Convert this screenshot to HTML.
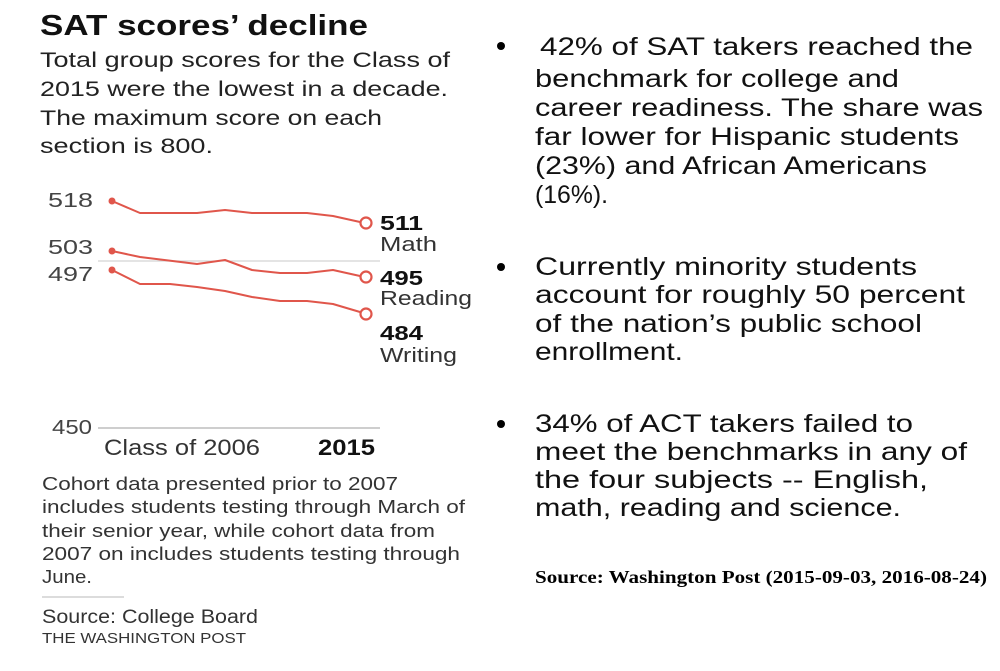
<!DOCTYPE html>
<html>
<head>
<meta charset="utf-8">
<style>
  html, body { margin: 0; padding: 0; background: #ffffff; }
  svg { display: block; }
  .sans { font-family: "Liberation Sans", "Noto Sans CJK JP", sans-serif; }
  .serif { font-family: "Liberation Serif", serif; }
</style>
</head>
<body>
<svg width="1000" height="671" viewBox="0 0 1000 671" xmlns="http://www.w3.org/2000/svg">
  <rect x="0" y="0" width="1000" height="671" fill="#ffffff"/>

  <!-- Title -->
  <text class="sans" x="40" y="35" font-size="29" font-weight="bold" fill="#111" textLength="328" lengthAdjust="spacingAndGlyphs">SAT scores’ decline</text>

  <!-- Subtitle -->
  <g class="sans" font-size="21" fill="#222">
    <text x="40" y="67" textLength="410" lengthAdjust="spacingAndGlyphs">Total group scores for the Class of</text>
    <text x="40" y="96" textLength="408" lengthAdjust="spacingAndGlyphs">2015 were the lowest in a decade.</text>
    <text x="40" y="125" textLength="342" lengthAdjust="spacingAndGlyphs">The maximum score on each</text>
    <text x="40" y="153" textLength="173" lengthAdjust="spacingAndGlyphs">section is 800.</text>
  </g>

  <!-- Chart gridlines -->
  <line x1="98" y1="261" x2="380" y2="261" stroke="#d4d4d4" stroke-width="1.2"/>
  <line x1="98" y1="428" x2="380" y2="428" stroke="#b0b0b0" stroke-width="1.2"/>

  <!-- Y labels -->
  <g class="sans" font-size="20" fill="#444">
    <text x="48" y="207" textLength="45" lengthAdjust="spacingAndGlyphs">518</text>
    <text x="48" y="254" textLength="45" lengthAdjust="spacingAndGlyphs">503</text>
    <text x="48" y="281" textLength="45" lengthAdjust="spacingAndGlyphs">497</text>
    <text x="52" y="434" textLength="40" lengthAdjust="spacingAndGlyphs">450</text>
  </g>

  <!-- Series -->
  <g fill="none" stroke="#e0564b" stroke-width="2" stroke-linejoin="round" stroke-linecap="round">
    <polyline points="112,201 140,213 197,213 225,210 252,213 307,213 333,216 360,222"/>
    <polyline points="112,251 140,257 197,264 225,260 252,270 280,273 307,273 333,270 360,276"/>
    <polyline points="112,270 140,284 170,284 197,287 225,291 252,297 280,301 307,301 333,304 360,312"/>
  </g>
  <g fill="#e0564b">
    <circle cx="112" cy="201" r="3.5"/>
    <circle cx="112" cy="251" r="3.5"/>
    <circle cx="112" cy="270" r="3.5"/>
  </g>
  <g fill="#ffffff" stroke="#e0564b" stroke-width="2.2">
    <circle cx="366" cy="223" r="5.5"/>
    <circle cx="366" cy="277" r="5.5"/>
    <circle cx="366" cy="314" r="5.5"/>
  </g>

  <!-- End labels -->
  <g class="sans" fill="#111">
    <text x="380" y="230" font-size="20" font-weight="bold" textLength="43" lengthAdjust="spacingAndGlyphs">511</text>
    <text x="380" y="251" font-size="20" fill="#333" textLength="57" lengthAdjust="spacingAndGlyphs">Math</text>
    <text x="380" y="285" font-size="20" font-weight="bold" textLength="43" lengthAdjust="spacingAndGlyphs">495</text>
    <text x="380" y="305" font-size="20" fill="#333" textLength="92" lengthAdjust="spacingAndGlyphs">Reading</text>
    <text x="380" y="340" font-size="20" font-weight="bold" textLength="43" lengthAdjust="spacingAndGlyphs">484</text>
    <text x="380" y="362" font-size="20" fill="#333" textLength="77" lengthAdjust="spacingAndGlyphs">Writing</text>
  </g>

  <!-- X labels -->
  <text class="sans" x="104" y="455" font-size="22" fill="#333" textLength="156" lengthAdjust="spacingAndGlyphs">Class of 2006</text>
  <text class="sans" x="318" y="455" font-size="22" font-weight="bold" fill="#111" textLength="57" lengthAdjust="spacingAndGlyphs">2015</text>

  <!-- Footnote -->
  <g class="sans" font-size="18" fill="#333">
    <text x="42" y="490" textLength="356" lengthAdjust="spacingAndGlyphs">Cohort data presented prior to 2007</text>
    <text x="42" y="513" textLength="423" lengthAdjust="spacingAndGlyphs">includes students testing through March of</text>
    <text x="42" y="537" textLength="393" lengthAdjust="spacingAndGlyphs">their senior year, while cohort data from</text>
    <text x="42" y="560" textLength="418" lengthAdjust="spacingAndGlyphs">2007 on includes students testing through</text>
    <text x="42" y="583" textLength="50" lengthAdjust="spacingAndGlyphs">June.</text>
  </g>
  <line x1="42" y1="597" x2="124" y2="597" stroke="#c8c8c8" stroke-width="1.2"/>
  <text class="sans" x="42" y="623" font-size="19" fill="#333" textLength="216" lengthAdjust="spacingAndGlyphs">Source: College Board</text>
  <text class="sans" x="42" y="643" font-size="15" fill="#333" textLength="204" lengthAdjust="spacingAndGlyphs">THE WASHINGTON POST</text>

  <!-- Right bullets -->
  <g fill="#000">
    <circle cx="501" cy="46" r="4"/>
    <circle cx="501" cy="267" r="4"/>
    <circle cx="501" cy="424" r="4"/>
  </g>
  <g class="sans" font-size="25" fill="#111">
    <text x="540" y="55" textLength="433" lengthAdjust="spacingAndGlyphs">42% of SAT takers reached the</text>
    <text x="535" y="87" textLength="364" lengthAdjust="spacingAndGlyphs">benchmark for college and</text>
    <text x="535" y="116" textLength="448" lengthAdjust="spacingAndGlyphs">career readiness. The share was</text>
    <text x="535" y="145" textLength="424" lengthAdjust="spacingAndGlyphs">far lower for Hispanic students</text>
    <text x="535" y="174" textLength="392" lengthAdjust="spacingAndGlyphs">(23%) and African Americans</text>
    <text x="535" y="203" textLength="73" lengthAdjust="spacingAndGlyphs">(16%).</text>

    <text x="535" y="275" textLength="382" lengthAdjust="spacingAndGlyphs">Currently minority students</text>
    <text x="535" y="303" textLength="430" lengthAdjust="spacingAndGlyphs">account for roughly 50 percent</text>
    <text x="535" y="332" textLength="387" lengthAdjust="spacingAndGlyphs">of the nation’s public school</text>
    <text x="535" y="360" textLength="148" lengthAdjust="spacingAndGlyphs">enrollment.</text>

    <text x="535" y="432" textLength="378" lengthAdjust="spacingAndGlyphs">34% of ACT takers failed to</text>
    <text x="535" y="460" textLength="432" lengthAdjust="spacingAndGlyphs">meet the benchmarks in any of</text>
    <text x="535" y="488" textLength="393" lengthAdjust="spacingAndGlyphs">the four subjects -- English,</text>
    <text x="535" y="516" textLength="366" lengthAdjust="spacingAndGlyphs">math, reading and science.</text>
  </g>
  <text class="serif" x="535" y="583" font-size="18" font-weight="bold" fill="#000" textLength="452" lengthAdjust="spacingAndGlyphs">Source: Washington Post (2015-09-03, 2016-08-24)</text>
</svg>
</body>
</html>
